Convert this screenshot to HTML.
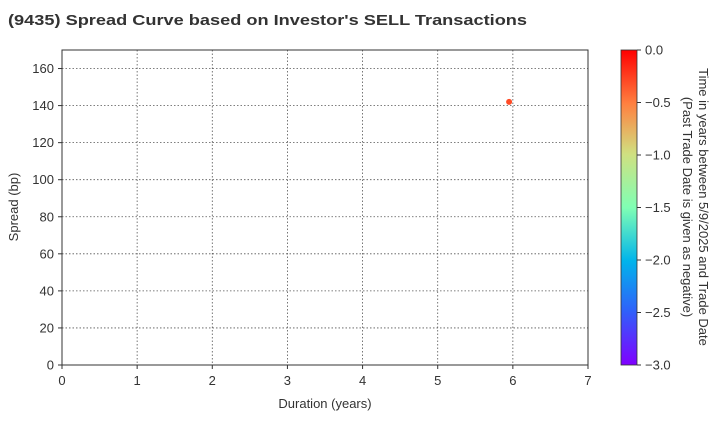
<!DOCTYPE html>
<html><head><meta charset="utf-8"><style>
body{margin:0;background:#fff;font-family:"Liberation Sans",Arial,sans-serif}
svg text{font-family:"Liberation Sans",Arial,sans-serif;fill:#333}
</style></head><body>
<svg id="c" width="720" height="420" xmlns="http://www.w3.org/2000/svg">
<defs><linearGradient id="rb" x1="0" y1="1" x2="0" y2="0">
<stop offset="0" stop-color="#8000ff"/><stop offset="0.17" stop-color="#3060fa"/><stop offset="0.33" stop-color="#00b4eb"/><stop offset="0.5" stop-color="#80ffb4"/><stop offset="0.67" stop-color="#d0e080"/><stop offset="0.83" stop-color="#ff8040"/><stop offset="1" stop-color="#ff0000"/></linearGradient></defs>
<text x="8" y="25" font-size="15" font-weight="bold" textLength="519" lengthAdjust="spacingAndGlyphs">(9435)   Spread Curve based on Investor's SELL Transactions</text>
<g id="grid"></g><g id="pts"></g>
<rect x="62" y="50" width="526" height="315" fill="none" stroke="#333"/>
<text x="325" y="408" font-size="13" text-anchor="middle">Duration (years)</text>
<text transform="translate(18,207) rotate(-90)" font-size="13" text-anchor="middle">Spread (bp)</text>
<rect x="621" y="50" width="16" height="315" fill="url(#rb)" stroke="#333" stroke-width="0.8"/>
<g id="cb"></g>
<text transform="translate(699,207) rotate(90)" font-size="13" text-anchor="middle"><tspan x="0" dy="0">Time in years between 5/9/2025 and Trade Date</tspan><tspan x="0" dy="16">(Past Trade Date is given as negative)</tspan></text>
</svg>
<script>
const xTicks=[0,1,2,3,4,5,6,7];
const yTicks=[0,20,40,60,80,100,120,140,160];
const cbTicks=[0,-0.5,-1,-1.5,-2,-2.5,-3];
const durations=[5.95];
const spreads=[142];
const times=[-0.3];
const NS="http://www.w3.org/2000/svg";
const X=v=>62+v*526/7, Y=v=>365-v*315/170, C=t=>50+(-t)*315/3;
function mk(tag,a,p){const e=document.createElementNS(NS,tag);for(const k in a)e.setAttribute(k,a[k]);p.appendChild(e);return e;}
const g=document.getElementById('grid'),pts=document.getElementById('pts'),cb=document.getElementById('cb');
xTicks.forEach(v=>{
 if(v>0&&v<7){const l=mk('line',{x1:X(v),x2:X(v),y1:50,y2:365,stroke:'#555','stroke-dasharray':'1.5,2','stroke-width':0.8},g);
 
 }
 mk('line',{x1:X(v),x2:X(v),y1:365,y2:369,stroke:'#333'},g);
 const t=mk('text',{x:X(v),y:385,'font-size':13,'text-anchor':'middle'},g);t.textContent=v;
 
 
});
yTicks.forEach(v=>{
 if(v>0){const l=mk('line',{x1:62,x2:588,y1:Y(v),y2:Y(v),stroke:'#555','stroke-dasharray':'1.5,2','stroke-width':0.8},g);
 
 }
 mk('line',{x1:58,x2:62,y1:Y(v),y2:Y(v),stroke:'#333'},g);
 const t=mk('text',{x:54,y:Y(v)+4.5,'font-size':13,'text-anchor':'end'},g);t.textContent=v;
 
 
});
cbTicks.forEach(v=>{
 mk('line',{x1:637,x2:641,y1:C(v),y2:C(v),stroke:'#333'},cb);
 const t=mk('text',{x:645,y:C(v)+4.5,'font-size':13},cb);t.textContent=(v<0?'\u2212':'')+Math.abs(v).toFixed(1);
 
 
});
function col(t){const f=1+t/3;const stops=[[0,[128,0,255]],[0.17,[48,96,250]],[0.33,[0,180,235]],[0.5,[128,255,180]],[0.67,[208,224,128]],[0.83,[255,128,64]],[1,[255,0,0]]];
 for(let i=1;i<stops.length;i++){if(f<=stops[i][0]){const a=stops[i-1],b=stops[i],r=(f-a[0])/(b[0]-a[0]);return 'rgb('+a[1].map((c,j)=>Math.round(c+(b[1][j]-c)*r)).join(',')+')';}}return 'rgb(255,0,0)';}
durations.forEach((d,i)=>{
 const c=mk('circle',{cx:X(d),cy:Y(spreads[i]),r:3,fill:col(times[i])},pts);
 
 
});
</script>
</body></html>
